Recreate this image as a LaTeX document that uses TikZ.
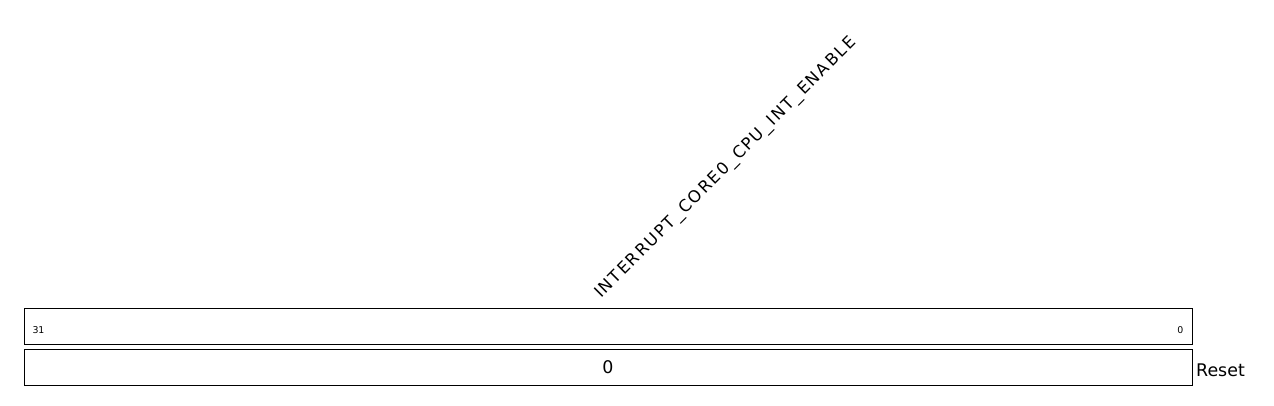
\documentclass[tikz,border=0pt]{standalone}
\usepackage{fontspec}
\setmainfont{DejaVu Sans}
\begin{document}
\begin{tikzpicture}[x=1pt,y=-1pt,
  fieldbox/.style={draw=black,line width=0.9pt,inner sep=0pt},
  bitlabel/.style={font=\fontsize{9.4}{11}\selectfont,inner sep=0pt},
  biglabel/.style={font=\fontsize{17.4}{20}\selectfont,inner sep=0pt},
  namelabel/.style={font=\fontsize{16.5}{19}\selectfont\addfontfeature{LetterSpace=11},inner sep=0pt}]
\useasboundingbox (0,0) rectangle (1274,405);
\draw[fieldbox] (24.3,308.3) rectangle (1192,344) coordinate (r1);
\draw[fieldbox] (24.3,349.3) rectangle (1192,385.7) coordinate (r2);
\node[bitlabel,anchor=base west] (b31) at (32.3,333.3) {31};
\node[bitlabel,anchor=base east] (b0) at (1183.5,333.3) {0};
\node[biglabel,anchor=base] (rv) at (608,373.5) {0};
\node[biglabel,anchor=base west] (reset) at (1196,376) {Reset};
\node[namelabel,anchor=base west,rotate=45] (fname) at (601,299) {INTERRUPT\_CORE0\_CPU\_INT\_ENABLE};
\end{tikzpicture}
\end{document}
